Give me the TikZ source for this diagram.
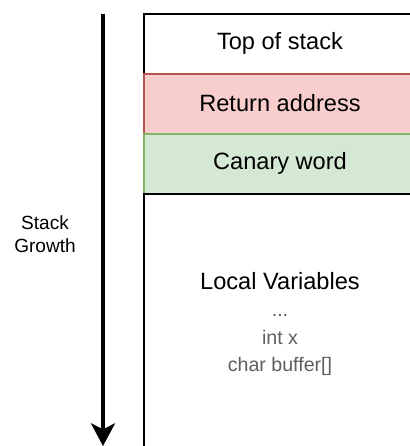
\documentclass[tikz,border=0pt]{standalone}
\usepackage{fontspec}
\setmainfont{Liberation Sans}
\usetikzlibrary{arrows.meta,positioning}
\definecolor{retfill}{HTML}{F8CECC}
\definecolor{retline}{HTML}{B85450}
\definecolor{canfill}{HTML}{D5E8D4}
\definecolor{canline}{HTML}{82B366}
\definecolor{vargray}{HTML}{5E5E5E}

\begin{document}
\begin{tikzpicture}[x=0.75pt,y=-0.75pt,>={Stealth[length=17pt,width=18pt,inset=4.5pt]},
                    frame/.style={draw,line width=1.5pt,outer sep=0pt,minimum width=204pt,
                                  minimum height=45pt,font=\fontsize{17.7}{20}\selectfont},
                    varline/.style={text=vargray,align=center,font=\fontsize{14.7}{20.5}\selectfont}]

  \clip (0,0) rectangle (410,446);

  \node[frame] (top) at (280,43.5) {Top of stack};
  \node[frame,fill=retfill,draw=retline] (ret) [below=0pt of top] {Return address};
  \node[frame,fill=canfill,draw=canline] (canary) [below=0pt of ret] {Canary word};
  \node[frame,minimum height=270pt] (locals) [below=0pt of canary] {};

  \node[font=\fontsize{17.7}{20}\selectfont] (loctitle) at (280,281) {Local Variables};
  \node[varline] (vars) at (280,345) {...\\int x\\char buffer[]};

  % growth arrow
  \coordinate (growtop) at (103,14);
  \coordinate (growend) at (103,446);
  \draw[->,line width=2.6pt] (growtop) -- (growend);
  \node[align=center,font=\fontsize{14.3}{17}\selectfont] (growth) at (45,234) {Stack\\Growth};
\end{tikzpicture}
\end{document}
